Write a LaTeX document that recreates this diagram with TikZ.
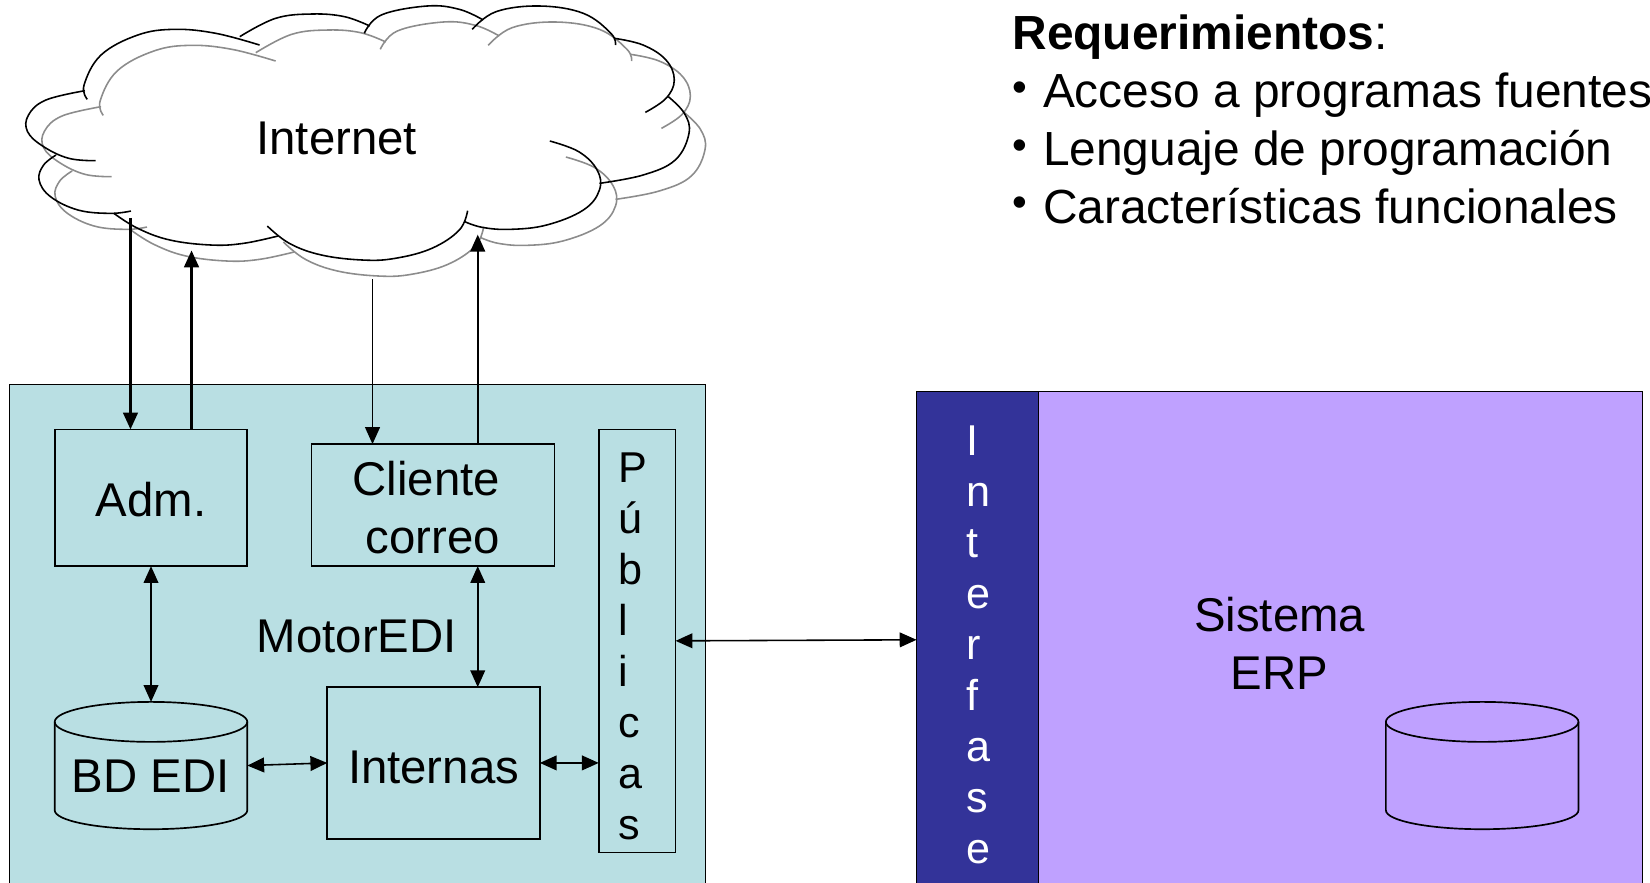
\documentclass[tikz,border=0pt]{standalone}
\usepackage{fontspec}
\setmainfont{Liberation Sans}
\usetikzlibrary{arrows.meta,calc,positioning}

\definecolor{motorfill}{HTML}{B9DFE3}
\definecolor{erpfill}{HTML}{BFA1FF}
\definecolor{bandfill}{HTML}{333399}

\tikzset{
  box/.style={draw=black, line width=1.6pt, inner sep=0pt, outer sep=0pt, align=center},
  dbase/.style={inner sep=0pt, outer sep=0pt, minimum width=183pt, minimum height=121pt},
  dbline/.style={draw=black, line width=1.6pt},
  letters/.style={font=\fontsize{41}{48.5}\selectfont, align=left, inner sep=0pt},
  thin link/.style={-{Triangle[length=16pt,width=14pt]}, line width=1.5pt},
  thick link/.style={-{Triangle[length=16pt,width=14pt]}, line width=2.3pt},
  both link/.style={{Triangle[length=16pt,width=14pt]}-{Triangle[length=16pt,width=14pt]}, line width=1.5pt}
}

% Outline of the cloud, one open arc per lobe
\newcommand{\cloudarcs}[1]{
  \draw[#1] plot[smooth, tension=0.65] coordinates {(190,298) (183,255) (220,165) (300,105) (380,88) (470,100) (565,135)};
  \draw[#1] plot[smooth, tension=0.65] coordinates {(522,110) (600,55) (680,42) (750,50) (805,78)};
  \draw[#1] plot[smooth, tension=0.65] coordinates {(793,100) (830,45) (930,18) (1000,28) (1052,60)};
  \draw[#1] plot[smooth, tension=0.65] coordinates {(1028,88) (1080,35) (1175,18) (1270,40) (1330,100) (1340,135)};
  \draw[#1] plot[smooth, tension=0.65] coordinates {(1338,115) (1400,135) (1450,180) (1468,240) (1450,295) (1405,337)};
  \draw[#1] plot[smooth, tension=0.65] coordinates {(1455,290) (1490,340) (1500,400) (1470,480) (1400,525) (1305,550)};
  \draw[#1] plot[smooth, tension=0.65] coordinates {(1197,423) (1260,455) (1300,510) (1305,570) (1270,630) (1190,675) (1110,688) (1050,682) (1012,665)};
  \draw[#1] plot[smooth, tension=0.65] coordinates {(1018,632) (1000,690) (940,745) (860,775) (790,780) (700,765) (630,730) (582,678)};
  \draw[#1] plot[smooth, tension=0.65] coordinates {(605,708) (530,730) (460,735) (370,720) (300,685) (248,640)};
  \draw[#1] plot[smooth, tension=0.65] coordinates {(285,633) (240,640) (170,630) (110,590) (85,540) (95,495) (122,465)};
  \draw[#1] plot[smooth, tension=0.65] coordinates {(208,482) (150,475) (95,440) (60,395) (62,345) (100,300) (185,272)};
}

% Drum outline round a dbase node
\newcommand{\dbshape}[1]{
  \draw[dbline] ($(#1.north)+(0,19)$) ellipse [x radius=91.5pt, y radius=19pt];
  \draw[dbline] ($(#1.north west)+(0,19)$) -- ($(#1.south west)+(0,-18)$)
    arc[start angle=180, end angle=360, x radius=91.5pt, y radius=18pt] -- ($(#1.north east)+(0,19)$);
}

\newcommand{\reqitem}{\makebox[29pt][l]{\raisebox{6pt}{\fontsize{40}{40}\selectfont •}}}

\begin{document}
\begin{tikzpicture}[x=1pt, y=-1pt, font=\fontsize{45}{55}\selectfont]
  \clip (0,0) rectangle (1568,839);

  % Panels
  \node[box, fill=motorfill, minimum width=661pt, minimum height=500pt, anchor=north west, line width=1pt] (motor) at (9,365) {};
  \node[box, fill=erpfill, minimum width=690pt, minimum height=500pt, anchor=north west, line width=1pt] (erp) at (871,372) {};
  \node[box, fill=bandfill, minimum width=116pt, minimum height=472pt, anchor=north west, line width=1pt] (interfase) at (871,372) {};
  \node[letters, text=white] (interfasetext) at (930,613) {I\\n\\t\\e\\r\\f\\a\\s\\e};

  % Boxes of the engine
  \node[box, minimum width=183pt, minimum height=130pt, anchor=north west] (adm) at (52,408) {\rule{0pt}{37pt}Adm.};
  \node[box, minimum width=231pt, minimum height=116pt, anchor=north west] (cliente) at (296,422) {\rule{0pt}{37pt}Cliente\hspace*{13pt}\\correo};
  \node[box, minimum width=202pt, minimum height=144pt, anchor=north west] (internas) at (311,653) {\rule{0pt}{39pt}Internas};
  \node[box, minimum width=73pt, minimum height=402pt, anchor=north west] (publicas) at (569,408) {};
  \node[letters] (publicastext) at (601,614.5) {P\\ú\\b\\l\\i\\c\\a\\s};

  % Databases
  \node[dbase] (bdedi) at (143.5,727.5) {};
  \node[dbase] (bderp) at (1408.5,727.5) {};
  \dbshape{bdedi}
  \dbshape{bderp}
  \node (bdlabel) at (143,738) {BD EDI};

  % Labels
  \node (motorlabel) at (339,605) {MotorEDI};
  \node[align=center] (erplabel) at (1216,611) {Sistema\\ERP};
  \node (internet) at (320,132) {Internet};
  \node[anchor=north west, inner sep=0pt, align=left, font=\fontsize{45.5}{55}\selectfont] (reqs) at (962,14) {\textbf{Requerimientos}:\\
    \reqitem Acceso a programas fuentes\\
    \reqitem Lenguaje de programación\\
    \reqitem Características funcionales};

  % Cloud and its shadow
  \begin{scope}[x=0.4365pt, y=-0.3168pt, shift={(35,48)}]
    \cloudarcs{line width=1.5pt, black!45}
  \end{scope}
  \begin{scope}[x=0.4365pt, y=-0.3168pt]
    \cloudarcs{line width=1.5pt, black}
  \end{scope}

  % Free ends at the cloud
  \coordinate (cloudA) at (124,207);
  \coordinate (cloudB) at (182,238);
  \coordinate (cloudC) at (354,265);
  \coordinate (cloudD) at (454,223);

  % Links
  \draw[thick link] (cloudA) -- (cloudA |- adm.north);
  \draw[thick link] (cloudB |- adm.north) -- (cloudB);
  \draw[thin link] (cloudC) -- (cloudC |- cliente.north);
  \draw[thin link] (cloudD |- cliente.north) -- (cloudD);
  \draw[both link] (adm.south) -- (bdedi.north);
  \draw[both link] (cliente.south -| cloudD) -- (internas.north -| cloudD);
  \draw[both link] (bdedi.east) -- (internas.west);
  \draw[both link] (internas.east) -- (publicas.west |- internas.east);
  \draw[both link] (publicas.east) -- (interfase.west);
\end{tikzpicture}
\end{document}
